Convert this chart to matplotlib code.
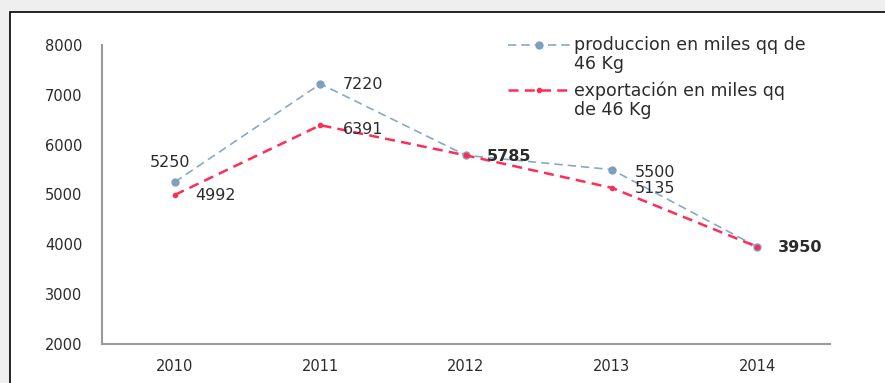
import matplotlib.pyplot as plt
from matplotlib.patches import Rectangle
from matplotlib.lines import Line2D

years = ['2010', '2011', '2012', '2013', '2014']
produccion = [5250, 7220, 5785, 5500, 3950]
exportacion = [4992, 6391, 5785, 5135, 3950]
yticks = [2000, 3000, 4000, 5000, 6000, 7000, 8000]

blue = '#86aac6'
red = '#ff2d55'
txt = '#2b2b2b'

W, H = 885, 383
fig = plt.figure(figsize=(W / 100, H / 100), dpi=100, facecolor='#efefef')

def fx(px):
    return px / W

def fy(py):
    return 1 - py / H

# white panel with black frame
fig.patches.append(Rectangle((fx(10), -0.05), 1.0, fy(12) + 0.05, transform=fig.transFigure,
                             facecolor='white', edgecolor='black', linewidth=1.2, zorder=-5))

ax = fig.add_axes([fx(102), fy(344), fx(830) - fx(102), fy(45) - fy(344)])
ax.set_facecolor('none')
x = list(range(len(years)))

ax.plot(x, produccion, linestyle=(0, (5, 3)), color=blue, linewidth=1.2,
        marker='o', markersize=5, markerfacecolor='#7f9fbf', markeredgecolor='#7f9fbf')
ax.plot(x, exportacion, linestyle=(0, (4, 2.5)), color=red, linewidth=1.8,
        marker='o', markersize=3, markerfacecolor=red, markeredgecolor=red)

ax.set_xlim(-0.5, 4.5)
ax.set_ylim(2000, 8000)
ax.set_xticks(x)
ax.set_xticklabels(years)
ax.set_yticks(yticks)
ax.tick_params(length=0, labelsize=10.5, colors=txt)
ax.tick_params(axis='y', pad=14)
ax.tick_params(axis='x', pad=11)
for s in ['top', 'right']:
    ax.spines[s].set_visible(False)
for s in ['left', 'bottom']:
    ax.spines[s].set_color('#9a9a9a')
    ax.spines[s].set_linewidth(1.5)

# value labels
lab = dict(fontsize=11.5, color=txt)
ax.annotate(str(produccion[0]), (0, produccion[0]), xytext=(-18, 11), textcoords='offset points', **lab)
ax.annotate(str(exportacion[0]), (0, exportacion[0]), xytext=(15, -4), textcoords='offset points', **lab)
ax.annotate(str(produccion[1]), (1, produccion[1]), xytext=(16, -4), textcoords='offset points', **lab)
ax.annotate(str(exportacion[1]), (1, exportacion[1]), xytext=(16, -6), textcoords='offset points', **lab)
ax.annotate(str(produccion[2]), (2, produccion[2]), xytext=(15, -4), textcoords='offset points',
            fontweight='bold', **lab)
ax.annotate(str(produccion[3]), (3, produccion[3]), xytext=(17, -5), textcoords='offset points', **lab)
ax.annotate(str(exportacion[3]), (3, exportacion[3]), xytext=(17, -4), textcoords='offset points', **lab)
ax.annotate(str(produccion[4]), (4, produccion[4]), xytext=(15, -4), textcoords='offset points',
            fontweight='bold', **lab)

# legend
fig.add_artist(Line2D([fx(508), fx(570)], [fy(45), fy(45)], transform=fig.transFigure,
                      color=blue, linestyle=(0, (5, 3)), linewidth=1.2))
fig.add_artist(Line2D([fx(539)], [fy(45)], transform=fig.transFigure, marker='o',
                      markersize=5, color='#7f9fbf'))
fig.add_artist(Line2D([fx(508), fx(570)], [fy(90), fy(90)], transform=fig.transFigure,
                      color=red, linestyle=(0, (4, 2.5)), linewidth=1.8))
fig.add_artist(Line2D([fx(539)], [fy(90)], transform=fig.transFigure, marker='o',
                      markersize=3, color=red))
fig.text(fx(574), fy(36), 'produccion en miles qq de\n46 Kg', fontsize=12.5, color=txt,
         va='top', ha='left', linespacing=1.1)
fig.text(fx(574), fy(81), 'exportación en miles qq\nde 46 Kg', fontsize=12.5, color=txt,
         va='top', ha='left', linespacing=1.1)

fig.savefig('out.png', dpi=100, facecolor=fig.get_facecolor())
